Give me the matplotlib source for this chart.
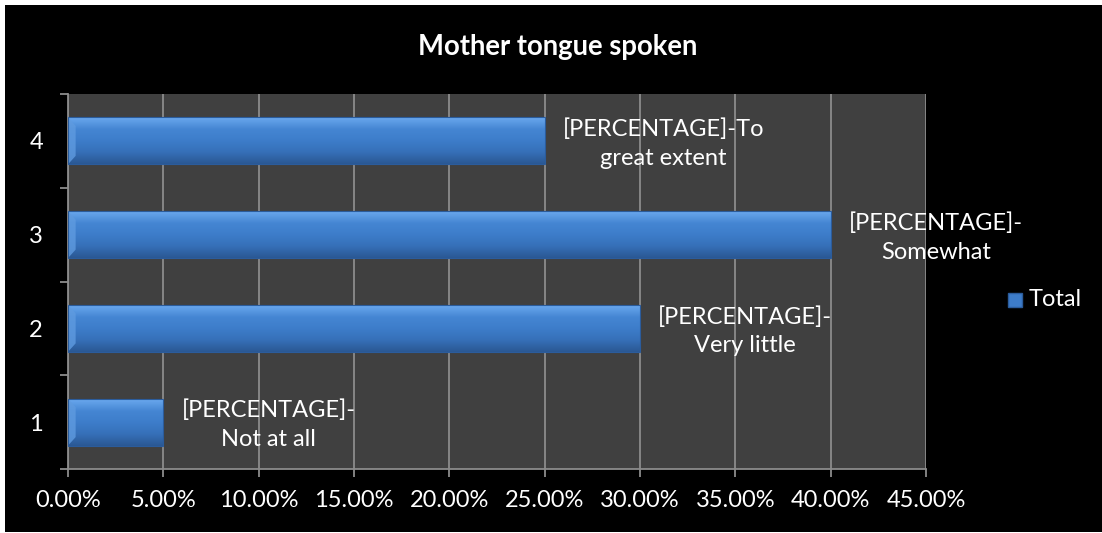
import matplotlib
matplotlib.use("Agg")
import matplotlib.pyplot as plt
import numpy as np
from matplotlib.colors import LinearSegmentedColormap
from matplotlib.patches import Polygon, Rectangle
from matplotlib.ticker import FuncFormatter, MultipleLocator

plt.rcParams["font.family"] = ["Lato", "DejaVu Sans"]

categories = ["1", "2", "3", "4"]
values = [0.05, 0.30, 0.40, 0.25]
labels = [
    "[PERCENTAGE]-\nNot at all",
    "[PERCENTAGE]-\nVery little",
    "[PERCENTAGE]-\nSomewhat",
    "[PERCENTAGE]-To\ngreat extent",
]
title = "Mother tongue spoken"
series_name = "Total"

W, H = 1102, 533
fig = plt.figure(figsize=(W / 100, H / 100), dpi=100, facecolor="white")
# black chart area inside a thin white frame
fig.patches.append(Rectangle((5 / W, 1 / H), (W - 5) / W, (H - 6) / H,
                             transform=fig.transFigure, facecolor="black",
                             edgecolor="none", zorder=-10))

ax = fig.add_axes([68 / W, 1 - 469 / H, (926 - 68) / W, (469 - 94) / H])
ax.set_facecolor("#404040")

grad = LinearSegmentedColormap.from_list(
    "bar", ["#2a5894", "#3670b8", "#3d7dca", "#4586d3", "#6aa8ee"])
g = np.linspace(0, 1, 64).reshape(-1, 1)
y = np.arange(1, len(categories) + 1)
h = 0.5
bev = 0.004  # small bevel at the left end of each bar
for yi, v, lab in zip(y, values, labels):
    ax.imshow(g, cmap=grad, origin="lower", aspect="auto",
              extent=(0, v, yi - h / 2, yi + h / 2), zorder=3)
    ax.add_patch(Polygon([(0, yi + h / 2), (bev, yi + h / 2 - 0.09),
                          (bev, yi - h / 2 + 0.09), (0, yi - h / 2)],
                         closed=True, facecolor="#5f9be0", edgecolor="none",
                         alpha=0.8, zorder=4))
    ax.add_patch(Rectangle((0, yi - h / 2), v, h, facecolor="none",
                           edgecolor="#2b5c9c", linewidth=0.8, zorder=4))
    ax.annotate(lab, (v, yi), xytext=(13, -2), textcoords="offset points",
                ha="left", va="center", multialignment="center",
                color="white", fontsize=17, linespacing=1.45, zorder=5)

ax.set_xlim(0, 0.45)
ax.set_ylim(0.5, 4.5)
ax.xaxis.set_major_locator(MultipleLocator(0.05))
ax.xaxis.set_major_formatter(FuncFormatter(lambda x, _: f"{x * 100:.2f}%"))
ax.set_yticks(y)
ax.set_yticklabels(categories)
ax.set_yticks(np.arange(0.5, 4.6, 1.0), minor=True)
ax.grid(axis="x", color="#8c8c8c", linewidth=1.3, zorder=1)
ax.set_axisbelow(True)

for s in ["top", "right"]:
    ax.spines[s].set_visible(False)
for s in ["left", "bottom"]:
    ax.spines[s].set_color("#8c8c8c")
    ax.spines[s].set_linewidth(1.3)

ax.tick_params(axis="x", colors="white", labelsize=17, length=6,
               color="#8c8c8c", width=1.3, pad=9)
ax.tick_params(axis="y", which="major", colors="white", labelsize=17,
               length=0, pad=18)
ax.tick_params(axis="y", which="minor", length=6, color="#8c8c8c", width=1.3)

fig.text(557.5 / W, 1 - 47 / H, title, ha="center", va="center", color="white",
         fontsize=19.8, fontweight="bold")

# legend
fig.patches.append(Rectangle((1008 / W, 1 - 307 / H), 14 / W, 14 / H,
                             transform=fig.transFigure, facecolor="#3d7cc9",
                             edgecolor="#2b5c9c", zorder=2))
fig.text(1029 / W, 1 - 300 / H, series_name, ha="left", va="center",
         color="white", fontsize=17)

fig.savefig("out.png", dpi=100, facecolor=fig.get_facecolor())
